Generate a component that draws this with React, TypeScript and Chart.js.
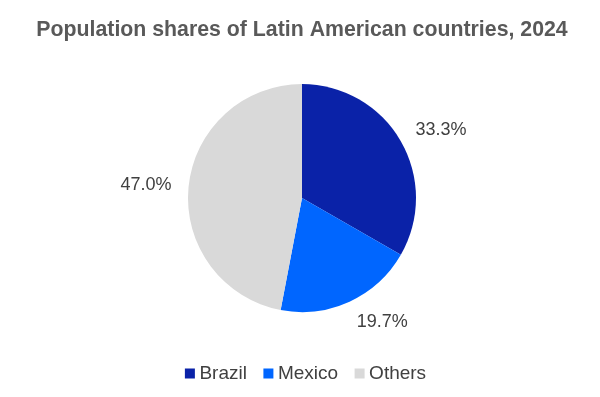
import React, { useEffect, useRef } from "react";
import { Chart, registerables } from "chart.js";

Chart.register(...registerables);

const countries = ["Brazil", "Mexico", "Others"];
const shares = [33.3, 19.7, 47.0];
const colors = ["#0A22A8", "#0066FF", "#D9D9D9"];
const titleText = "Population shares of Latin American countries, 2024";

const FONT = "'Liberation Sans', Arial, sans-serif";

const outsideLabels = {
  id: "outsideLabels",
  afterDatasetsDraw(chart: any) {
    const ctx = chart.ctx;
    const meta = chart.getDatasetMeta(0);
    ctx.save();
    ctx.font = "18px " + FONT;
    ctx.fillStyle = "#404040";
    ctx.textAlign = "center";
    ctx.textBaseline = "middle";
    meta.data.forEach((arc: any, i: number) => {
      const { x, y, startAngle, endAngle, outerRadius } = arc.getProps(
        ["x", "y", "startAngle", "endAngle", "outerRadius"],
        true
      );
      const mid = (startAngle + endAngle) / 2;
      const c = Math.cos(mid);
      const s = Math.sin(mid);
      const d = outerRadius + 17;
      const px = x + c * d;
      const py = y + s * d;
      const text = shares[i].toFixed(1) + "%";
      const w = ctx.measureText(text).width;
      const h = 10;
      const tx = px + Math.sign(c) * (w / 2);
      const ty = py + s * (h / 2);
      ctx.fillText(text, tx, ty);
    });
    ctx.restore();
  },
};

const legendShift = {
  id: "legendShift",
  afterLayout(chart: any) {
    if (chart.legend) {
      chart.legend.left += 6;
      chart.legend.right += 6;
    }
  },
};

export default function App() {
  const ref = useRef<HTMLCanvasElement>(null);
  useEffect(() => {
    if (!ref.current) return;
    const chart = new Chart(ref.current, {
      type: "pie",
      data: {
        labels: countries,
        datasets: [
          {
            data: shares,
            backgroundColor: colors,
            borderWidth: 0,
            radius: 114,
          },
        ],
      },
      options: {
        responsive: false,
        animation: false,
        layout: { padding: { top: 0, bottom: 4, left: 4, right: 0 } },
        plugins: {
          title: {
            display: true,
            text: titleText,
            color: "#595959",
            font: { size: 21.3, weight: "bold", family: FONT },
            padding: { top: 17, bottom: 11 },
          },
          legend: {
            position: "bottom",
            labels: {
              color: "#404040",
              usePointStyle: true,
              pointStyle: "rect",
              boxWidth: 0.01,
              boxHeight: 10,
              padding: 21.5,
              font: { size: 19, family: FONT },
            },
          },
          tooltip: { enabled: false },
        },
      },
      plugins: [outsideLabels, legendShift],
    });
    return () => chart.destroy();
  }, []);
  return (
    <div style={{ position: "absolute", left: 0, top: 0, width: 600, height: 397, background: "#fff" }}>
      <canvas ref={ref} width={600} height={397} />
    </div>
  );
}
